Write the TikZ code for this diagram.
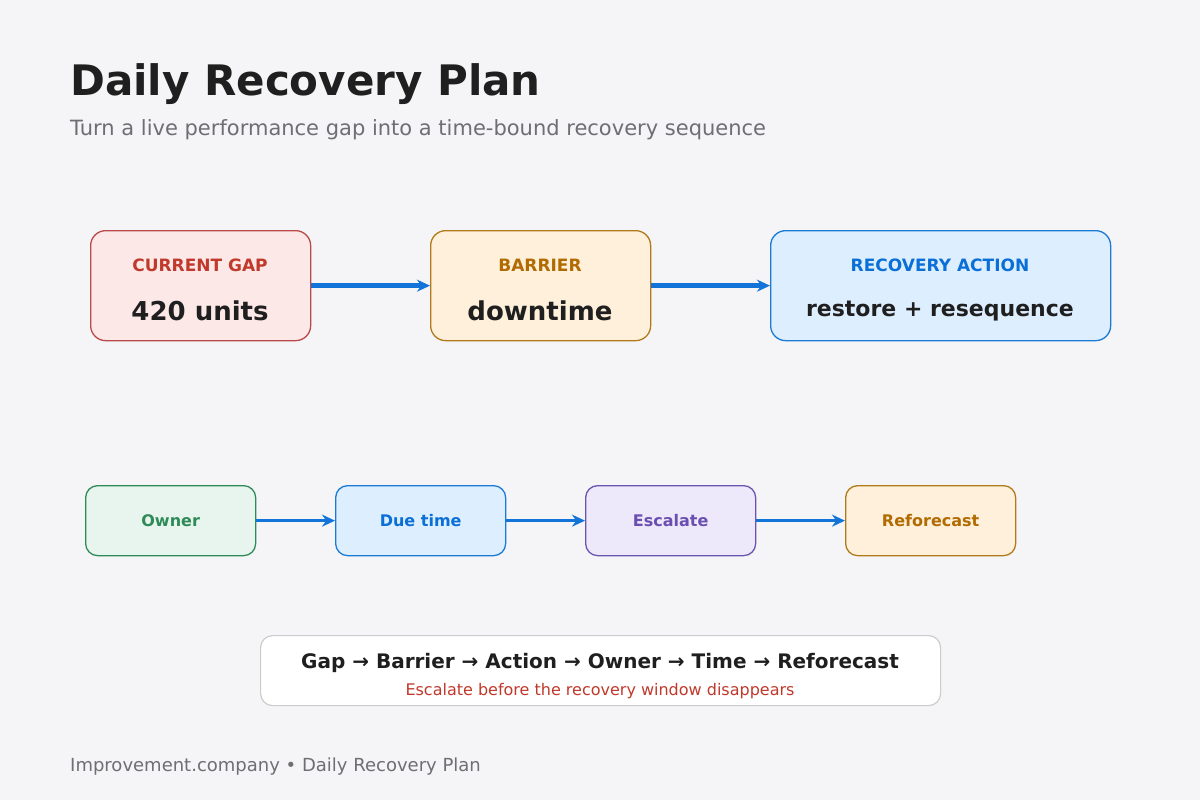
\documentclass[tikz,border=0pt]{standalone}
\usepackage{fontspec}
\setmainfont{DejaVu Sans}
\usetikzlibrary{arrows.meta}
\definecolor{bg}{HTML}{F5F5F7}
\definecolor{ink}{HTML}{1F1F1F}
\definecolor{sub}{HTML}{6E6E73}
\definecolor{rfill}{HTML}{FDE8E8}\definecolor{rline}{HTML}{B94A48}\definecolor{rtext}{HTML}{C0392B}
\definecolor{ofill}{HTML}{FFF0DB}\definecolor{oline}{HTML}{B07A1A}\definecolor{otext}{HTML}{B26B00}
\definecolor{bfill}{HTML}{DDEEFF}\definecolor{bline}{HTML}{1A7AD4}\definecolor{btext}{HTML}{0A6FD6}
\definecolor{gfill}{HTML}{E8F5EE}\definecolor{gline}{HTML}{2E8B57}\definecolor{gtext}{HTML}{2E8B57}
\definecolor{pfill}{HTML}{EDE8FA}\definecolor{pline}{HTML}{6A55B0}\definecolor{ptext}{HTML}{6A4FB0}
\definecolor{arrc}{HTML}{1274D9}
\tikzset{
 big/.style={draw=#1line,fill=#1fill,line width=1.3pt,rounded corners=15pt,minimum height=110pt,anchor=north west,inner sep=0},
 small/.style={draw=#1line,fill=#1fill,line width=1.3pt,rounded corners=12pt,minimum width=170pt,minimum height=70pt,anchor=north west,inner sep=0},
 lab/.style={font=\fontsize{17}{19}\selectfont\bfseries},
 slab/.style={font=\fontsize{16}{18}\selectfont\bfseries},
 val/.style={font=\fontsize{26}{30}\selectfont\bfseries,text=ink},
 arr/.style={draw=arrc,-{Stealth[length=13pt,width=12pt]}},
}
\begin{document}
\begin{tikzpicture}[x=1pt,y=-1pt]
\fill[bg] (0,0) rectangle (1200,800);
\useasboundingbox (0,0) rectangle (1200,800);
\node[anchor=west,font=\fontsize{42}{48}\selectfont\bfseries,text=ink,inner sep=0] (title) at (70,84) {Daily Recovery Plan};
\node[anchor=west,font=\fontsize{21}{25}\selectfont,text=sub,inner sep=0] (subt) at (70,130) {Turn a live performance gap into a time-bound recovery sequence};
% big boxes
\node[big=r,minimum width=220pt] (gap) at (90,230) {};
\node[big=o,minimum width=220pt] (bar) at (430,230) {};
\node[big=b,minimum width=340pt] (act) at (770,230) {};
\node[lab,text=rtext] (gapl) at (200,265) {CURRENT GAP};
\node[val] (gapv) at (200,311) {420 units};
\node[lab,text=otext] (barl) at (540,265) {BARRIER};
\node[val] (barv) at (540,311) {downtime};
\node[lab,text=btext] (actl) at (940,265) {RECOVERY ACTION};
\node[val,font=\fontsize{22}{26}\selectfont\bfseries] (actv) at (940,311) {restore + resequence};
\draw[arr,line width=4.5pt] (gap.east) -- (bar.west);
\draw[arr,line width=4.5pt] (bar.east) -- (act.west);
% small boxes
\node[small=g] (own) at (85,485) {};
\node[small=b] (due) at (335,485) {};
\node[small=p] (esc) at (585,485) {};
\node[small=o] (ref) at (845,485) {};
\node[slab,text=gtext] at (own.center) {Owner};
\node[slab,text=btext] at (due.center) {Due time};
\node[slab,text=ptext] at (esc.center) {Escalate};
\node[slab,text=otext] at (ref.center) {Reforecast};
\draw[arr,line width=3.5pt] (own.east) -- (due.west);
\draw[arr,line width=3.5pt] (due.east) -- (esc.west);
\draw[arr,line width=3.5pt] (esc.east) -- (ref.west);
% summary
\node[draw=black!20,fill=white,line width=1.2pt,rounded corners=12pt,minimum width=680pt,minimum height=70pt,anchor=north west] (sum) at (260,635) {};
\node[font=\fontsize{20}{24}\selectfont\bfseries,text=ink] (sumt) at (600,663) {Gap → Barrier → Action → Owner → Time → Reforecast};
\node[font=\fontsize{16}{19}\selectfont,text=rtext] (sums) at (600,691) {Escalate before the recovery window disappears};
\node[anchor=west,font=\fontsize{18}{21}\selectfont,text=sub,inner sep=0] (foot) at (70,767) {Improvement.company • Daily Recovery Plan};
\end{tikzpicture}
\end{document}
